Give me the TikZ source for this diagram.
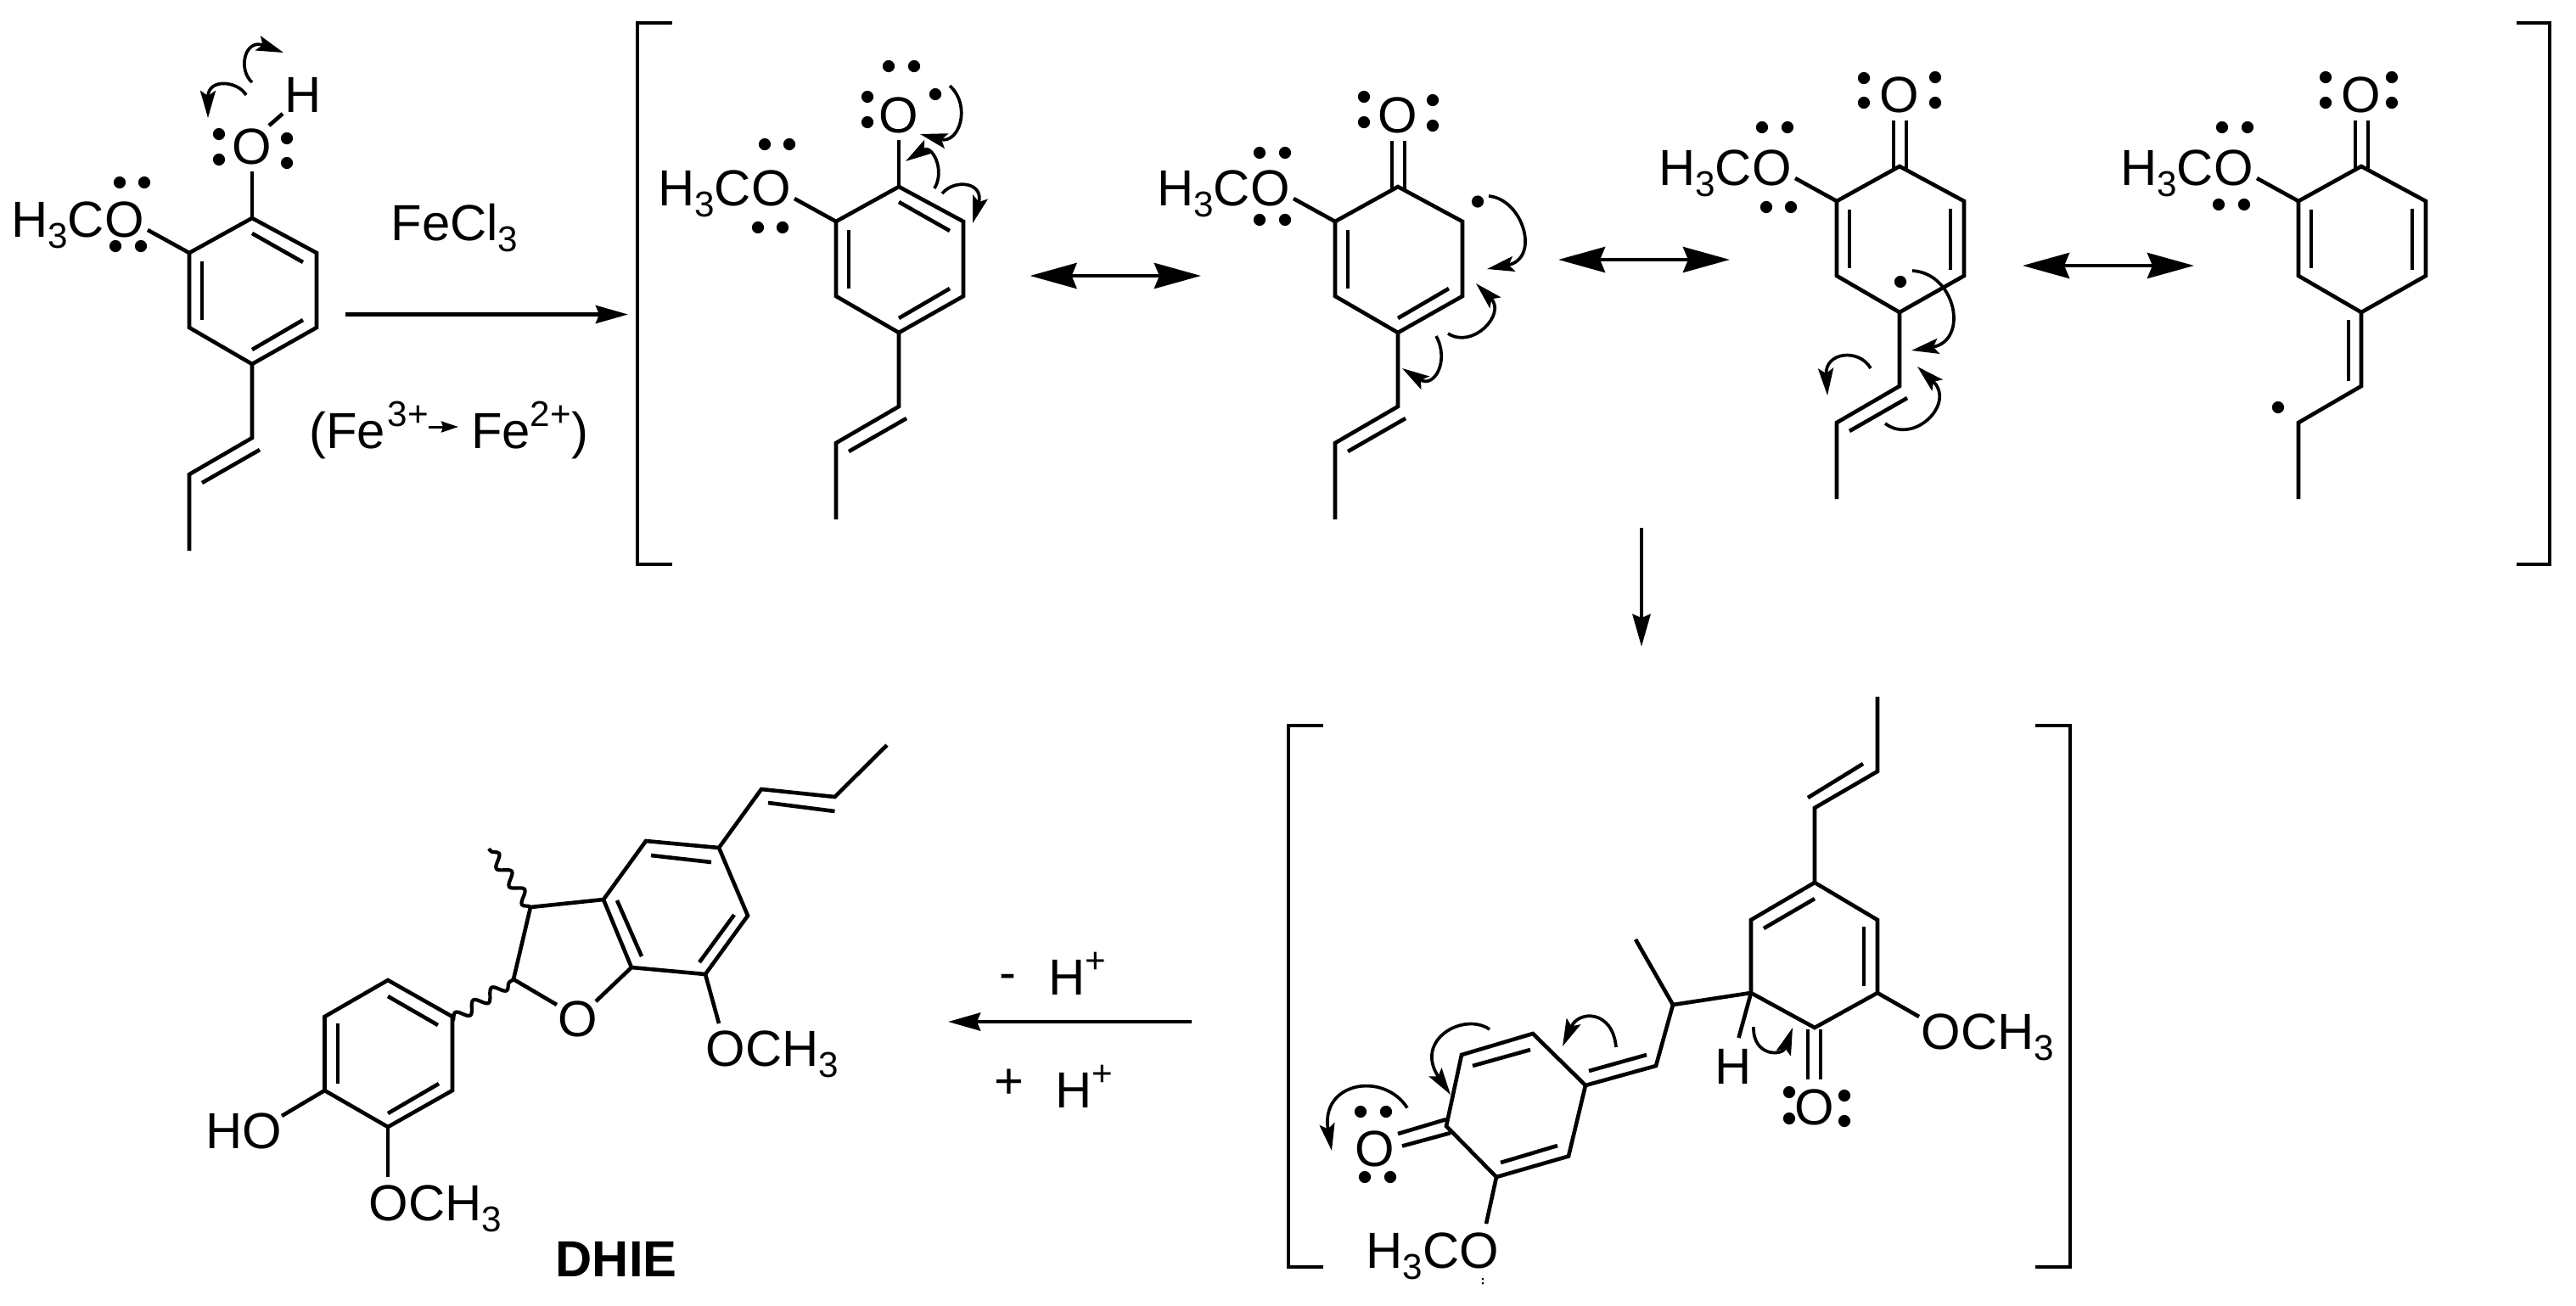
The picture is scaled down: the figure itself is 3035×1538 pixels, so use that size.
\documentclass[tikz,border=0pt]{standalone}
\usepackage{fontspec}
\setmainfont{Liberation Sans}
\usetikzlibrary{arrows.meta,decorations.pathmorphing}

\tikzset{
	bond/.style={line width=0.46mm},
	lbl/.style={font=\fontsize{17}{19}\selectfont, inner sep=0, anchor=base west},
	lblc/.style={lbl, anchor=center},
	curly/.style={line width=0.37mm, -{Stealth[length=0.32cm,width=0.18cm,inset=0.06cm]}},
	rxn/.style={line width=0.46mm, -{Stealth[length=0.38cm,width=0.21cm,inset=0.04cm]}},
	reso/.style={line width=0.46mm, {Stealth[length=0.55cm,width=0.3cm,inset=0.06cm]}-{Stealth[length=0.55cm,width=0.3cm,inset=0.06cm]}},
	wavy/.style={line width=0.42mm, decorate, decoration={snake, segment length=0.26cm, amplitude=0.065cm}}
}

\newcommand{\subnum}[1]{\raisebox{-0.22em}{\fontsize{12}{13}\selectfont #1}}
\newcommand{\supnum}[1]{\raisebox{0.42em}{\fontsize{12}{13}\selectfont #1}}
\def\epair(#1)(#2){\fill (#1) circle (7.1); \fill (#2) circle (7.1);}
\def\ringbonds{\draw[bond] (297,257) -- (373,298) -- (373,386) -- (297,429) -- (223,386) -- (223,298) -- cycle;}
\def\methoxy{
	\draw[bond] (174,271) -- (223,298);
	\node[lbl] (h3co) at (12.5,279) {H\subnum{3}CO};
	\node[lblc] (oxo) at (297,173) {O};
}
\def\propenyl{
	\draw[bond] (297,429) -- (297,516) -- (223,559) -- (223,649);
	\draw[bond] (306,530) -- (238,569);
	\ringbonds
}
\def\carbonyl{
	\draw[bond] (290,203) -- (290,260);
	\draw[bond] (305,203) -- (305,260);
}
\def\leftdouble{\draw[bond] (238,308) -- (238,377);}
\def\lowdouble{\draw[bond] (297,412) -- (357,377);}
\def\topdouble{\draw[bond] (297,275) -- (357,309);}
\def\rightdouble{\draw[bond] (357,307) -- (357,379);}

\begin{document}
\begin{tikzpicture}[x=0.01cm,y=-0.01cm]
			\useasboundingbox (0,0) rectangle (3035,1538);
			%%%%% TOP ROW %%%%%
			
			\propenyl \methoxy \leftdouble \lowdouble \topdouble
			\draw[bond] (297,202) -- (297,257);
			\draw[bond] (333,134) -- (317,148);
			\node[lblc] (hyd) at (357,112) {H};
			\epair(141,215)(170,215)
			\epair(136,290)(166,290)
			\epair(258,158)(258,188)
			\epair(338,163)(338,192)
			\draw[curly] (290,112) .. controls (280,95) and (245,92) .. (245,139);
			\draw[curly] (297,97) .. controls (280,82) and (288,45) .. (334,62);
			
			\coordinate (fwda) at (407,370.5);
			\coordinate (fwdb) at (740,370.5);
			\draw[rxn] (fwda) -- (fwdb);
			\node[lbl] (fecl) at (460,283) {FeCl\subnum{3}};
			\node[lbl] (fea) at (363.5,528) {(Fe\kern0.05em\supnum{3+}};
			\node[lbl] (feb) at (554.5,528) {Fe\supnum{2+})};
			\coordinate (ssa) at (505,503);
			\coordinate (ssb) at (540,503);
			\draw[line width=0.3mm, -{Stealth[length=0.2cm,width=0.13cm,inset=0.02cm]}] (ssa) -- (ssb);
			
			\draw[bond] (792,27) -- (751,27) -- (751,665) -- (792,665);
			\draw[bond] (2965,27) -- (3004,27) -- (3004,665) -- (2965,665);
			
			\begin{scope}[shift={(762,-37)}]
				\propenyl \methoxy \leftdouble \lowdouble \topdouble
				\draw[bond] (297,202) -- (297,257);
			\end{scope}
			\epair(901,170)(930,170)
			\epair(893,268)(922,268)
			\epair(1047,78)(1077,78)
			\epair(1022,114)(1022,144)
			\fill (1102,111) circle (7.1);
			\draw[curly] (1119,101) .. controls (1145,125) and (1130,170) .. (1084,158);
			\draw[curly] (1101,222) .. controls (1114,200) and (1098,170) .. (1067,190);
			\draw[curly] (1110,228) .. controls (1125,210) and (1160,215) .. (1146,263);
			
			\coordinate (resa) at (1213.5,325);
			\coordinate (resb) at (1415,325);
			\draw[reso] (resa) -- (resb);
			
			\begin{scope}[shift={(1350,-37)}]
				\propenyl \methoxy \leftdouble \lowdouble \carbonyl
			\end{scope}
			\epair(1484,180)(1514,180)
			\epair(1484,259)(1514,259)
			\epair(1607,114)(1607,144)
			\epair(1688,118)(1688,148)
			\fill (1741,237.5) circle (7.1);
			\draw[curly] (1754,231) .. controls (1795,235) and (1815,305) .. (1752,317);
			\draw[curly] (1706,393) .. controls (1735,412) and (1775,370) .. (1739,334);
			\draw[curly] (1692,396) .. controls (1708,425) and (1690,458) .. (1652,434);
			
			\coordinate (resc) at (1836,306);
			\coordinate (resd) at (2038,306);
			\draw[reso] (resc) -- (resd);
			
			\begin{scope}[shift={(1941,-61)}]
				\propenyl \methoxy \leftdouble \rightdouble \carbonyl
			\end{scope}
			\epair(2076,150)(2106,150)
			\epair(2081,244)(2110,244)
			\epair(2196,92)(2196,121)
			\epair(2280,91)(2280,121)
			\fill (2239,332) circle (7.1);
			\draw[curly] (2253,319) .. controls (2305,322) and (2320,402) .. (2252,413);
			\draw[curly] (2221,499) .. controls (2255,525) and (2305,475) .. (2259,432);
			\draw[curly] (2204,434) .. controls (2190,410) and (2150,415) .. (2153,466);
			
			\coordinate (rese) at (2383,313);
			\coordinate (resf) at (2585,313);
			\draw[reso] (rese) -- (resf);
			
			\begin{scope}[shift={(2485,-61)}]
				\ringbonds \methoxy \leftdouble \rightdouble \carbonyl
				\draw[bond] (297,429) -- (297,516) -- (223,559) -- (223,649);
				\draw[bond] (282,438) -- (282,510);
			\end{scope}
			\epair(2618,150)(2648,150)
			\epair(2614,241)(2644,241)
			\epair(2740,91)(2740,121)
			\epair(2818,91)(2818,121)
			\fill (2684,480) circle (7.1);
			
			\coordinate (dwna) at (1934,622);
			\coordinate (dwnb) at (1934,762);
			\draw[rxn] (dwna) -- (dwnb);
			
			%%%%% DIMER %%%%%
			
			\draw[bond] (1559,855) -- (1518,855) -- (1518,1493) -- (1559,1493);
			\draw[bond] (2398,855) -- (2439,855) -- (2439,1493) -- (2398,1493);
			
			\draw[bond] (2138,1040) -- (2212,1084) -- (2212,1170) -- (2138,1211) -- (2063,1170) -- (2063,1084) -- cycle;
			\draw[bond] (2138,1040) -- (2138,952) -- (2212,909) -- (2212,821);
			\draw[bond] (2130,940) -- (2195,900);
			\draw[bond] (2078,1094) -- (2138,1059);
			\draw[bond] (2196,1092) -- (2196,1162);
			\draw[bond] (2130,1213) -- (2130,1272);
			\draw[bond] (2145,1213) -- (2145,1272);
			\node[lblc] (oxb) at (2138,1304.5) {O};
			\epair(2108,1287)(2108,1318)
			\epair(2173,1291)(2173,1321)
			\draw[bond] (2212,1170) -- (2261,1198);
			\node[lbl] (ocha) at (2263,1236) {OCH\subnum{3}};
			\draw[bond] (2063,1170) -- (2048.5,1223);
			\node[lbl] (hyb) at (2020,1277) {H};
			\draw[curly] (2066,1210) .. controls (2065,1245) and (2100,1245) .. (2112,1211);
			
			\draw[bond] (2063,1170) -- (1971,1184) -- (1927,1107);
			\draw[bond] (1971,1184) -- (1951,1256) -- (1868,1279);
			\draw[bond] (1940,1243) -- (1872,1262);
			\draw[bond] (1868,1279) -- (1806,1218) -- (1722,1243) -- (1704,1327) -- (1763,1387) -- (1848,1362.5) -- cycle;
			\draw[bond] (1803,1237) -- (1735,1256);
			\draw[bond] (1835,1350) -- (1768,1370);
			\draw[bond] (1704,1319) -- (1647,1336);
			\draw[bond] (1709,1335) -- (1652,1350.5);
			\node[lblc] (oxc) at (1620,1354) {O};
			\epair(1603,1310)(1633,1310)
			\epair(1608,1387)(1638,1387)
			\draw[bond] (1763,1387) -- (1751,1442);
			\node[lbl] (h3cob) at (1609,1494) {H\subnum{3}CO};
			\fill (1747,1507) circle (1.5);
			\fill (1747,1512) circle (1.5);
			\draw[curly] (1904,1234) .. controls (1900,1190) and (1860,1190) .. (1841,1233);
			\draw[curly] (1755,1213) .. controls (1725,1192) and (1665,1225) .. (1709,1290);
			\draw[curly] (1658,1305.5) .. controls (1630,1262) and (1555,1275) .. (1569,1356);
			
			%%%%% PRODUCT %%%%%
			
			\coordinate (bcka) at (1404,1204);
			\coordinate (bckb) at (1117,1204);
			\draw[rxn] (bcka) -- (bckb);
			\node[lbl] (minus) at (1177,1166) {-};
			\node[lbl] (hpa) at (1234.5,1172) {H\supnum{+}};
			\node[lbl] (plus) at (1171,1294) {+};
			\node[lbl] (hpb) at (1242.5,1305) {H\supnum{+}};
			
			\draw[bond] (457,1155) -- (533,1198) -- (533,1285) -- (457,1328) -- (382.5,1285) -- (382.5,1198) -- cycle;
			\draw[bond] (457,1174) -- (516,1208);
			\draw[bond] (398,1206) -- (398,1277);
			\draw[bond] (457,1312) -- (517,1277);
			\draw[bond] (382.5,1285) -- (332,1315);
			\node[lbl] (hoa) at (241.5,1353) {HO};
			\draw[bond] (457,1328) -- (457,1387);
			\node[lbl] (ochb) at (434,1438) {OCH\subnum{3}};
			\draw[wavy] (533,1203) -- (605,1154);
			\draw[wavy] (625,1069) -- (576,1000);
			\draw[bond] (656,1184) -- (605,1154) -- (625,1069) -- (711,1060) -- (744,1140) -- (702,1180);
			\node[lblc] (oxd) at (681,1201) {O};
			\draw[bond] (711,1060) -- (761,991) -- (847,999) -- (881,1079) -- (831,1148) -- (744,1140);
			\draw[bond] (727,1061) -- (756,1127);
			\draw[bond] (767,1008) -- (838,1016);
			\draw[bond] (865,1078) -- (824,1134);
			\draw[bond] (831,1148) -- (847,1206);
			\node[lbl] (ochc) at (831,1256) {OCH\subnum{3}};
			\draw[bond] (847,999) -- (897,930) -- (983.5,939) -- (1045,878);
			\draw[bond] (905,946) -- (983.5,956);
			\node[lbl, font=\fontsize{17}{19}\selectfont\bfseries] (dhie) at (654,1504) {DHIE};
			
			%%%%% END %%%%%
\end{tikzpicture}
\end{document}
